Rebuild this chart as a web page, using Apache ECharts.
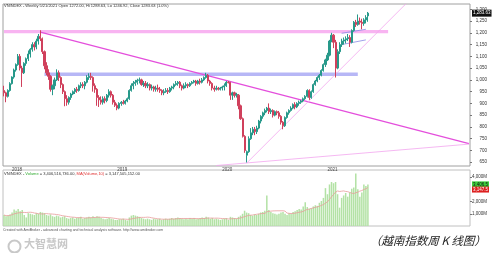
<!DOCTYPE html>
<html><head><meta charset="utf-8">
<script src="https://cdn.jsdelivr.net/npm/echarts@6/dist/echarts.min.js"></script>
<style>html,body{margin:0;padding:0;background:#fff}#c{width:494px;height:253px}</style>
</head><body><div id="c"></div>
<script>
// ---- data ----
const startDate = '2017-12-04';          // first weekly bar
const totalWeeks = 231;                  // slots on the x axis (data + empty space on the right)
const yearTicks = {4: '2018', 56: '2019', 108: '2020', 160: '2021'};
const priceTicks = [650,700,750,800,850,900,950,1000,1050,1100,1150,1200,1250,1300];
const volumeTicks = [1000, 2000, 4000];

const opens = [955,945,930,955,984,1012,1042,1065,1100,1050,1030,1070,1090,1110,1130,1150,1140,1165,1185,1175,
1120,1060,1030,1015,960,975,1000,1030,1010,980,950,920,905,925,940,950,960,955,975,980,
975,990,1010,1015,1010,975,960,925,915,905,920,912,935,950,935,905,892,880,900,905,
900,910,920,955,975,985,990,998,1000,980,985,975,980,965,970,960,965,960,955,945,
950,955,950,965,970,980,985,990,975,965,975,980,975,985,990,995,985,995,990,1000,
1010,1020,995,985,965,960,965,960,965,970,975,990,990,935,945,935,935,890,835,760,
680,695,750,775,790,780,795,825,845,860,870,880,865,870,850,865,860,845,820,805,
840,860,870,880,895,885,900,905,910,920,930,955,925,950,980,995,1010,1020,1040,1065,
1085,1105,1165,1190,1160,1050,1120,1150,1165,1170,1175,1180,1160,1210,1245,1235,1250,1245,1240,1255,1272];
const closes = [945,930,955,984,1012,1042,1065,1100,1050,1030,1070,1090,1110,1130,1150,1140,1165,1185,1175,1120,
1060,1030,1015,960,975,1000,1030,1010,980,950,920,905,925,940,950,960,955,975,980,975,
990,1010,1015,1010,975,960,925,915,905,920,912,935,950,935,905,892,880,900,905,900,
910,920,955,975,985,990,998,1000,980,985,975,980,965,970,960,965,960,955,945,950,
955,950,965,970,980,985,990,975,965,975,980,975,985,990,995,985,995,990,1000,1010,
1020,995,985,965,960,965,960,965,970,975,990,988,935,945,935,938,890,835,760,700,
695,750,775,790,780,795,825,845,860,870,880,865,870,850,865,860,845,820,805,840,
860,870,880,895,885,900,905,910,920,930,955,925,950,980,995,1010,1020,1040,1065,1085,
1105,1165,1190,1160,1050,1120,1150,1165,1170,1175,1180,1160,1210,1245,1235,1250,1245,1240,1255,1265,1283.63];
const lows = [930,905,925,950,980,1005,1035,1060,1040,970,1025,1060,1080,1095,1120,1125,1130,1150,1165,1110,
1045,1020,1000,950,935,960,995,995,965,940,888,890,895,915,935,940,945,950,965,965,
960,985,1000,1000,950,945,890,885,895,895,900,905,925,925,895,885,871,875,890,895,
895,905,915,950,960,975,980,985,975,970,965,965,955,955,950,950,950,945,935,935,
945,940,945,955,960,975,975,965,955,960,965,965,970,980,985,975,980,980,985,995,
1005,985,975,955,950,955,955,955,955,955,970,985,915,915,925,925,875,830,755,690,
649,690,745,765,765,770,790,815,835,850,862,855,855,840,845,850,835,810,790,800,
835,852,865,875,875,880,890,898,905,915,925,915,920,945,975,990,1000,1015,1035,1055,
1080,1100,1160,1135,1010,1045,1110,1140,1150,1155,1165,1140,1155,1205,1225,1230,1235,1215,1230,1240,1246.92];
const highs = [975,950,960,990,1015,1048,1070,1110,1110,1060,1075,1095,1125,1135,1160,1160,1175,1195,1211,1180,
1125,1075,1045,1020,980,1010,1045,1040,1015,985,955,935,930,945,955,965,970,980,990,990,
995,1020,1028,1030,1015,985,965,935,930,930,930,940,960,955,940,915,900,905,910,915,
915,925,960,985,995,1000,1005,1010,1005,995,995,990,985,980,975,975,980,970,960,960,
965,965,970,975,985,995,995,995,980,985,990,985,990,995,1000,1000,1000,1005,1008,1015,
1030,1025,1000,990,975,975,970,970,975,985,995,995,990,950,950,945,940,895,840,765,
700,760,795,800,800,805,830,850,865,878,885,900,878,875,870,870,868,850,825,845,
865,875,888,900,905,905,912,915,925,935,960,960,955,985,1000,1015,1025,1045,1070,1090,
1115,1170,1200,1195,1170,1130,1160,1175,1180,1185,1195,1190,1215,1250,1255,1278,1265,1260,1262,1275,1288.63];
// weekly volume, millions of shares
const volumes = [900,800,850,950,1100,1350,1250,1400,1200,1300,
900,700,1050,1000,950,900,1050,1000,1150,1100,
1050,900,850,950,800,750,850,800,700,750,
800,650,600,650,700,600,650,700,750,600,
650,700,750,700,800,700,800,750,650,600,
550,600,650,600,550,500,500,550,550,600,
500,450,700,850,900,850,800,750,650,600,
550,600,550,500,600,550,550,600,500,550,
600,550,600,650,600,650,700,650,600,550,
600,550,650,600,650,550,600,650,700,650,
750,700,600,650,550,600,550,500,550,600,
650,500,750,700,650,600,750,850,1000,1250,
1100,1050,900,850,950,900,1000,1100,1150,1250,
2500,1300,1150,1050,1000,950,1000,1100,1150,1000,
900,1050,1000,1150,1200,1300,1400,1350,1600,1950,
1550,1400,1450,1600,1700,1650,1900,2050,2300,3100,
2600,3400,3600,3500,3600,2600,1500,2300,2500,2700,
2400,2750,3050,3150,4300,3000,2400,2750,3400,3268.5,3406.5];

// drawn levels / trendlines (category index, price)
const resistanceBand = {from: 0, to: 190, low: 1198, high: 1212};
const supportBand = {from: 20, to: 175, low: 1016, high: 1031};
const downTrend = [[18, 1203], [230, 729]];
const upTrend = [[120, 646], [199, 1325]];
const lowerTrend = [[105, 636], [230, 727]];
const channelTop = [[167, 1198], [179, 1215]];
const channelBottom = [[167, 1150], [179, 1170]];
const lastClose = 1283.63, lastVolume = 3406.5, lastVolMA = 3147.5;

// ---- build ----
const weeks = [];
{
  const d0 = new Date(startDate + 'T00:00:00Z');
  for (let i = 0; i < totalWeeks; i++) {
    const d = new Date(d0.getTime() + i * 7 * 86400000);
    weeks.push(d.toISOString().slice(0, 10));
  }
}
const candles = opens.map((o, i) => [o, closes[i], lows[i], highs[i]]);
const volMA = volumes.map((v, i) => {
  const s = volumes.slice(Math.max(0, i - 9), i + 1);
  return +(s.reduce((a, b) => a + b, 0) / s.length).toFixed(1);
});
const fmt = v => v.toLocaleString('en-US');
const hidden = {color: 'rgba(0,0,0,0)', width: 0, type: 'solid'};

const chart = echarts.init(document.getElementById('c'), null, {renderer: 'canvas'});
const trend = (data, color, width) => ({
  type: 'line', xAxisIndex: 0, yAxisIndex: 0, data, showSymbol: false, silent: true,
  lineStyle: {color, width}, z: 3, clip: true
});
chart.setOption({
  animation: false,
  backgroundColor: '#fff',
  title: [
    {text: 'VNINDEX - Weekly 5/21/2021 Open 1272.00, Hi 1288.63, Lo 1246.92, Close 1283.63 (1.0%)',
     left: 4, top: 4, padding: 0, textStyle: {fontSize: 4, fontWeight: 'normal', color: '#333', fontFamily: 'Arial, Liberation Sans'}},
    {text: '{k|VNINDEX - }{g|Volume}{k| = 3,406,516,736.00, }{r|MA(Volume,10)}{k| = 3,147,505,152.00}',
     left: 4, top: 172, padding: 0,
     textStyle: {fontSize: 4, fontWeight: 'normal', rich: {
       k: {fontSize: 4, color: '#333'}, g: {fontSize: 4, color: '#2eaa2e'}, r: {fontSize: 4, color: '#e03030'}}}},
    {text: 'Created with AmiBroker - advanced charting and technical analysis software. http://www.amibroker.com',
     left: 3, top: 228, padding: 0, textStyle: {fontSize: 3.5, fontWeight: 'normal', color: '#555'}},
    {text: '大智慧网', left: 24, top: 238, padding: 0,
     textStyle: {fontSize: 11, fontWeight: 'bold', color: '#c8c8c8', fontFamily: 'Noto Sans CJK SC'}}
  ],
  graphic: [
    {type: 'circle', left: 6, top: 238, shape: {r: 6}, style: {fill: 'none', stroke: '#c8c8c8', lineWidth: 2}, silent: true},
    {type: 'text', x: 429, y: 241, skewX: -0.28, silent: true,
     style: {text: '（越南指数周 K 线图）', fill: '#222', font: '11.5px "Noto Sans CJK SC"', align: 'center', verticalAlign: 'middle'}}
  ],
  grid: [
    {left: 3, top: 4, width: 467, height: 162, show: true, borderColor: '#a0a0a0', borderWidth: 1, backgroundColor: '#fff'},
    {left: 3, top: 170, width: 467, height: 56, show: true, borderColor: '#c0c0c0', borderWidth: 1}
  ],
  xAxis: [
    {type: 'category', gridIndex: 0, data: weeks, boundaryGap: true,
     axisLine: {show: false}, axisTick: {show: false}, splitLine: {show: false},
     axisLabel: {interval: (i) => (i in yearTicks), formatter: (v, i) => yearTicks[i] || '',
                 fontSize: 4.5, color: '#444', align: 'left', margin: 1}},
    {type: 'category', gridIndex: 1, data: weeks, boundaryGap: true,
     axisLine: {show: false}, axisTick: {show: false}, axisLabel: {show: false}, splitLine: {show: false}}
  ],
  yAxis: [
    {type: 'value', gridIndex: 0, position: 'right', min: 634, max: 1322.5, scale: true,
     splitLine: {show: false}, axisLine: {show: false},
     axisTick: {show: true, length: 2, customValues: priceTicks, lineStyle: {color: '#777'}},
     axisLabel: {customValues: priceTicks, fontSize: 4.5, color: '#333', align: 'right', margin: 17, formatter: fmt}},
    {type: 'value', gridIndex: 1, position: 'right', min: 0, max: 4583,
     splitLine: {show: false}, axisLine: {show: false},
     axisTick: {show: true, length: 2, customValues: volumeTicks, lineStyle: {color: '#777'}},
     axisLabel: {customValues: volumeTicks, fontSize: 4.5, color: '#333', align: 'right', margin: 17,
                 formatter: v => fmt(v) + 'M'}}
  ],
  series: [
    {type: 'candlestick', xAxisIndex: 0, yAxisIndex: 0, data: candles, barWidth: '80%', z: 4,
     itemStyle: {color: '#27998a', color0: '#d0405c', borderColor: '#27998a', borderColor0: '#d0405c', borderWidth: 1},
     markArea: {silent: true, data: [
       [{xAxis: resistanceBand.from, yAxis: resistanceBand.low, itemStyle: {color: '#f8b4f1'}},
        {xAxis: resistanceBand.to, yAxis: resistanceBand.high}],
       [{xAxis: supportBand.from, yAxis: supportBand.low, itemStyle: {color: '#b7b7f6'}},
        {xAxis: supportBand.to, yAxis: supportBand.high}]
     ]},
     markLine: {silent: true, symbol: 'none', data: [{yAxis: lastClose}],
       lineStyle: hidden,
       label: {show: true, position: 'end', distance: 2, formatter: fmt(lastClose), backgroundColor: '#111', color: '#fff',
               fontSize: 4.5, padding: [1, 1]}}},
    trend(downTrend, '#e44fdc', 1.2),
    trend(upTrend, '#f3a6ef', 0.8),
    trend(lowerTrend, '#f3a6ef', 0.8),
    trend(channelTop, '#8a8ae6', 0.8),
    trend(channelBottom, '#8a8ae6', 0.8),
    {type: 'bar', xAxisIndex: 1, yAxisIndex: 1, data: volumes, barWidth: '75%',
     itemStyle: {color: '#b3e2a5'},
     markLine: {silent: true, symbol: 'none', lineStyle: hidden,
       data: [
         {yAxis: lastVolume, label: {show: true, position: 'end', distance: 2, formatter: fmt(lastVolume), backgroundColor: '#3ccf3c', color: '#111', fontSize: 4.5, padding: [0.5, 1]}},
         {yAxis: lastVolMA, label: {show: true, position: 'end', distance: 2, formatter: fmt(lastVolMA), backgroundColor: '#dd2020', color: '#fff', fontSize: 4.5, padding: [0.5, 1], offset: [0, 2]}}
       ]}},
    {type: 'line', xAxisIndex: 1, yAxisIndex: 1, data: volMA, showSymbol: false, silent: true,
     lineStyle: {color: '#e99a9a', width: 0.8}}
  ]
});
</script></body></html>
